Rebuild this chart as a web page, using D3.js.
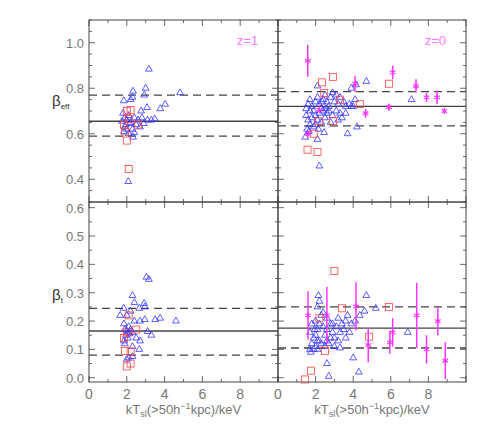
<!DOCTYPE html>
<html lang="en">
<head>
<meta charset="UTF-8">
<title>beta vs kT</title>
<script src="https://d3js.org/d3.v7.min.js"></script>
<style>
body { margin: 0; background: #fff; }
text { font-family: "Liberation Sans", Arial, sans-serif; }
</style>
</head>
<body>
<div id="chart"></div>
<script>
// ---- data: [kT, beta] ----
const effZ1Tri = [[3.17,0.884],[2.33,0.787],[3.0,0.80],[2.92,0.77],[4.82,0.78],[1.84,0.745],[2.2,0.75],[2.3,0.76],
  [2.76,0.70],[3.07,0.715],[3.77,0.71],[4.03,0.73],[1.9,0.67],[1.8,0.69],[2.0,0.66],[2.1,0.68],[2.2,0.65],[2.4,0.67],
  [2.6,0.66],[2.8,0.67],[3.1,0.66],[3.3,0.66],[3.48,0.665],[2.5,0.64],[2.7,0.63],[2.0,0.62],[1.9,0.63],[1.85,0.61],
  [2.1,0.60],[2.3,0.62],[2.4,0.605],[2.33,0.585],[1.95,0.64],[2.15,0.645],[2.9,0.645],[1.75,0.655],[2.08,0.39]];
const effZ1Sq = [[2.0,0.70],[2.2,0.705],[2.1,0.665],[2.0,0.57],[2.1,0.445],[1.9,0.61],[1.85,0.64],[2.6,0.64]];
const effZ0Tri = [[2.2,0.458],[2.1,0.575],[2.45,0.605],[3.7,0.60],[4.2,0.63],[4.7,0.83],[4.15,0.815],[3.9,0.80],
  [7.1,0.75],[2.1,0.81],[1.45,0.585],[4.1,0.75],[1.6,0.73],[1.7,0.75],[1.8,0.72],[1.9,0.70],[2.0,0.74],[2.1,0.76],
  [2.2,0.73],[2.3,0.71],[2.4,0.75],[2.5,0.77],[2.6,0.74],[2.7,0.72],[2.8,0.76],[2.9,0.78],[3.0,0.74],[3.1,0.77],
  [3.2,0.73],[3.3,0.76],[3.5,0.74],[3.6,0.72],[3.8,0.73],[4.0,0.72],[1.5,0.68],[1.6,0.66],[1.7,0.64],[1.8,0.67],
  [1.9,0.63],[2.0,0.68],[2.1,0.66],[2.2,0.69],[2.3,0.65],[2.4,0.70],[2.5,0.67],[2.6,0.69],[2.7,0.70],[2.9,0.68],
  [3.1,0.70],[3.3,0.69],[3.4,0.67],[3.6,0.69],[1.5,0.71],[1.7,0.70],[1.55,0.62],[1.65,0.61],[2.0,0.64],[2.15,0.62],
  [3.9,0.72],[2.35,0.74],[2.55,0.71],[2.8,0.65],[3.2,0.66]];
const effZ0Sq = [[2.34,0.826],[2.92,0.85],[5.9,0.82],[2.46,0.78],[3.3,0.75],[4.35,0.73],[2.17,0.655],[2.92,0.655],
  [1.9,0.60],[1.57,0.53],[2.1,0.52]];
// stars: [kT, beta, error]
const effZ0Star = [[1.58,0.92,0.07],[4.1,0.82,0.035],[6.1,0.87,0.03],[7.34,0.81,0.03],[7.9,0.76,0.02],
  [8.46,0.76,0.03],[8.85,0.70,0.008],[5.9,0.717,0.015],[4.66,0.69,0.02],[2.2,0.705,0.01],[1.6,0.60,0.01]];

const tZ1Tri = [[3.04,0.355],[3.17,0.347],[2.3,0.29],[2.4,0.265],[2.92,0.262],[2.95,0.25],[2.66,0.245],[1.84,0.245],
  [2.2,0.235],[1.65,0.22],[2.0,0.22],[4.6,0.2],[3.5,0.205],[3.76,0.21],[2.95,0.205],[2.7,0.2],[2.4,0.2],[1.85,0.19],
  [3.1,0.163],[3.3,0.15],[2.7,0.13],[2.3,0.11],[2.66,0.10],[2.3,0.075],[2.0,0.065],[2.1,0.07],[1.9,0.17],[2.0,0.165],
  [2.1,0.16],[2.2,0.17],[1.95,0.15],[2.05,0.14],[2.15,0.155],[2.3,0.16],[1.85,0.13],[1.9,0.12],[2.5,0.14],[2.1,0.18]];
const tZ1Sq = [[2.1,0.22],[2.5,0.17],[1.85,0.14],[1.9,0.095],[2.2,0.093],[2.2,0.05],[2.0,0.04],[2.0,0.16]];
const tZ0Tri = [[2.15,0.29],[2.2,0.27],[2.1,0.25],[4.7,0.29],[5.2,0.245],[4.6,0.235],[4.35,0.22],[6.9,0.16],
  [4.0,0.07],[4.3,0.02],[2.6,0.05],[2.7,0.005],[1.75,0.09],[3.3,0.105],[1.7,0.16],[1.8,0.19],[1.9,0.14],[2.0,0.20],
  [2.1,0.17],[2.2,0.13],[2.3,0.22],[2.4,0.18],[2.5,0.15],[2.6,0.21],[2.7,0.12],[2.8,0.19],[2.9,0.16],[3.0,0.14],
  [3.1,0.18],[3.2,0.21],[3.4,0.19],[3.5,0.17],[3.6,0.20],[3.7,0.22],[3.8,0.16],[3.9,0.19],[4.1,0.20],[1.8,0.12],
  [1.9,0.10],[2.0,0.11],[2.1,0.10],[2.3,0.12],[2.5,0.11],[2.6,0.13],[2.8,0.14],[3.0,0.11],[3.2,0.13],[1.7,0.10],
  [2.0,0.15],[2.2,0.19],[2.4,0.23],[2.6,0.17],[2.9,0.19],[3.3,0.16],[3.6,0.14],[2.1,0.13],[1.95,0.17]];
const tZ0Sq = [[3.0,0.377],[3.4,0.245],[5.9,0.25],[4.85,0.145],[2.5,0.095],[1.75,0.025],[1.43,-0.006],[2.2,0.21]];
const tZ0Star = [[1.6,0.22,0.085],[2.6,0.22,0.1],[4.15,0.252,0.085],[4.8,0.115,0.06],[6.1,0.16,0.05],
  [5.95,0.125,0.04],[7.38,0.22,0.115],[7.9,0.10,0.05],[8.5,0.20,0.05],[8.9,0.06,0.065]];

// fits: [mean, low, high]
const fitEffZ1 = [0.655, 0.59, 0.77];
const fitEffZ0 = [0.72, 0.635, 0.785];
const fitTZ1 = [0.165, 0.08, 0.245];
const fitTZ0 = [0.175, 0.105, 0.25];

const xTicks = [0, 2, 4, 6, 8];
const effTicks = [0.4, 0.6, 0.8, 1.0];
const tTicks = [0, 0.1, 0.2, 0.3, 0.4, 0.5, 0.6];

const W = 491, H = 425;
const svg = d3.select("#chart").append("svg").attr("width", W).attr("height", H);

const colL = [89, 278], colR = [278, 466];
const rowTop = [202, 20], rowBot = [382, 202];
const xL = d3.scaleLinear().domain([0, 10]).range(colL);
const xR = d3.scaleLinear().domain([0, 10]).range(colR);
const yEff = d3.scaleLinear().domain([0.3, 1.1]).range(rowTop);
const yT = d3.scaleLinear().domain([-0.015, 0.62]).range(rowBot);

const blue = "#3333ff", red = "#ff4444", mag = "#ff33ff", lineCol = "#444", txtCol = "#777";

function panel(x, y, tri, sq, star, fit, yticks, yfmt, showY, showX, label) {
  const g = svg.append("g");
  const [x0, x1] = x.range(), [y0, y1] = y.range();
  // ticks, inward on all sides
  const tk = g.append("g").attr("stroke", lineCol).attr("stroke-width", 0.8);
  d3.range(0, 10.01, 1).forEach(v => {
    const len = v % 2 === 0 ? 6 : 3;
    tk.append("line").attr("x1", x(v)).attr("x2", x(v)).attr("y1", y0).attr("y2", y0 - len);
    tk.append("line").attr("x1", x(v)).attr("x2", x(v)).attr("y1", y1).attr("y2", y1 + len);
  });
  const [d0, d1] = y.domain();
  const minor = 0.05;
  d3.range(Math.ceil(d0 / minor) * minor, d1 + 1e-6, minor).forEach(v => {
    const major = yticks.some(t => Math.abs(t - v) < 1e-6);
    const len = major ? 6 : 3;
    tk.append("line").attr("y1", y(v)).attr("y2", y(v)).attr("x1", x0).attr("x2", x0 + len);
    tk.append("line").attr("y1", y(v)).attr("y2", y(v)).attr("x1", x1).attr("x2", x1 - len);
  });
  g.append("rect").attr("x", x0).attr("y", y1).attr("width", x1 - x0).attr("height", y0 - y1)
    .attr("fill", "none").attr("stroke", lineCol).attr("stroke-width", 1);
  if (showY) {
    g.selectAll(".yl").data(yticks).join("text").attr("x", x0 - 5).attr("y", d => y(d) + 5)
      .attr("text-anchor", "end").attr("font-size", 13).attr("fill", txtCol).text(yfmt);
  }
  if (showX) {
    g.selectAll(".xl").data(xTicks).join("text").attr("x", d => x(d)).attr("y", y0 + 17)
      .attr("text-anchor", "middle").attr("font-size", 14).attr("fill", txtCol).text(d => d);
    const xt = g.append("text").attr("x", (x0 + x1) / 2).attr("y", y0 + 32).attr("text-anchor", "middle")
      .attr("font-size", 13).attr("fill", txtCol);
    xt.append("tspan").text("kT");
    xt.append("tspan").attr("font-size", 9).attr("dy", 3).text("sl");
    xt.append("tspan").attr("dy", -3).text("(>50h");
    xt.append("tspan").attr("font-size", 9).attr("dy", -5).text("−1");
    xt.append("tspan").attr("dy", 5).text("kpc)/keV");
  }
  // fit lines
  g.append("line").attr("x1", x0).attr("x2", x1).attr("y1", y(fit[0])).attr("y2", y(fit[0]))
    .attr("stroke", lineCol).attr("stroke-width", 1.3);
  [fit[1], fit[2]].forEach(v => g.append("line").attr("x1", x0).attr("x2", x1)
    .attr("y1", y(v)).attr("y2", y(v)).attr("stroke", lineCol).attr("stroke-width", 1.3)
    .attr("stroke-dasharray", "8,5"));
  g.selectAll(".tri").data(tri).join("path")
    .attr("d", d3.symbol(d3.symbolTriangle, 20)())
    .attr("transform", d => `translate(${x(d[0])},${y(d[1])})`)
    .attr("fill", "none").attr("stroke", blue).attr("stroke-width", 0.8);
  g.selectAll(".sq").data(sq).join("rect")
    .attr("x", d => x(d[0]) - 3.5).attr("y", d => y(d[1]) - 3.5).attr("width", 7).attr("height", 7)
    .attr("fill", "none").attr("stroke", red).attr("stroke-width", 0.8);
  const st = g.selectAll(".st").data(star).join("g");
  st.append("line").attr("x1", d => x(d[0])).attr("x2", d => x(d[0]))
    .attr("y1", d => y(d[1] - d[2])).attr("y2", d => y(d[1] + d[2])).attr("stroke", mag).attr("stroke-width", 1.5);
  st.append("path").attr("d", d3.symbol(d3.symbolAsterisk, 30)())
    .attr("transform", d => `translate(${x(d[0])},${y(d[1])})`)
    .attr("stroke", mag).attr("stroke-width", 1.2).attr("fill", "none");
  if (label) {
    g.append("text").attr("x", x1 - 20).attr("y", y1 + 25).attr("text-anchor", "end")
      .attr("font-size", 13).attr("fill", "#ff77ff").text(label);
  }
}

const fmt1 = d => d.toFixed(1);
panel(xL, yEff, effZ1Tri, effZ1Sq, [], fitEffZ1, effTicks, fmt1, true, false, "z=1");
panel(xR, yEff, effZ0Tri, effZ0Sq, effZ0Star, fitEffZ0, effTicks, fmt1, false, false, "z=0");
panel(xL, yT, tZ1Tri, tZ1Sq, [], fitTZ1, tTicks, fmt1, true, true, null);
panel(xR, yT, tZ0Tri, tZ0Sq, tZ0Star, fitTZ0, tTicks, fmt1, false, true, null);

// y-axis titles
const b1 = svg.append("text").attr("x", 52).attr("y", 106).attr("font-size", 15).attr("fill", "#333");
b1.append("tspan").text("β");
b1.append("tspan").attr("font-size", 8).attr("dy", 3).text("eff");
const b2 = svg.append("text").attr("x", 52).attr("y", 300).attr("font-size", 15).attr("fill", "#333");
b2.append("tspan").text("β");
b2.append("tspan").attr("font-size", 8).attr("dy", 3).text("t");
</script>
</body>
</html>
